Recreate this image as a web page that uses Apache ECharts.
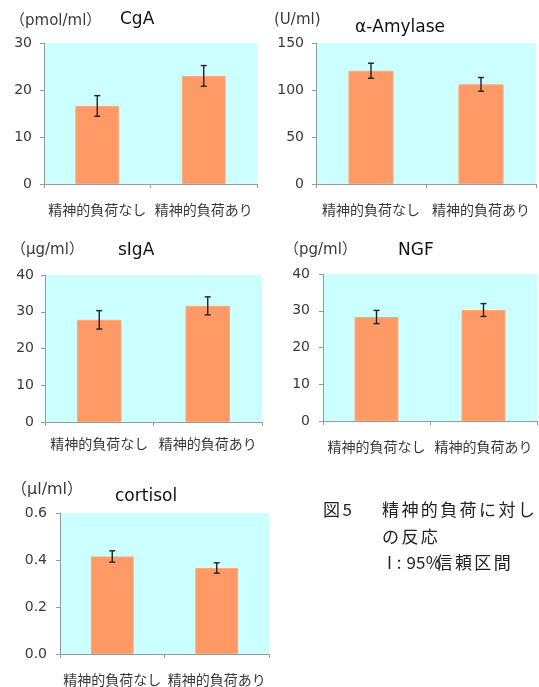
<!DOCTYPE html>
<html>
<head>
<meta charset="utf-8">
<script src="https://cdn.jsdelivr.net/npm/echarts@6/dist/echarts.min.js"></script>
<style>
  html, body { margin: 0; padding: 0; background: #fff; }
  #chart { width: 539px; height: 687px; }
</style>
</head>
<body>
<div id="chart"></div>
<script>
// Groups compared in every panel
const categories = ['精神的負荷なし', '精神的負荷あり'];

// Mean values and 95% confidence half-widths per marker
const cgaMean = [16.6, 23.0];
const cgaCI = [2.2, 2.2];
const amylaseMean = [120.5, 106.0];
const amylaseCI = [8.0, 7.3];
const sigaMean = [27.8, 31.6];
const sigaCI = [2.5, 2.45];
const ngfMean = [28.3, 30.2];
const ngfCI = [1.8, 1.75];
const cortisolMean = [0.415, 0.366];
const cortisolCI = [0.024, 0.022];

// Panel titles, units and y-axis ranges
const panelNames = ['CgA', 'α-Amylase', 'sIgA', 'NGF', 'cortisol'];
const panelUnits = ['（pmol/ml）', '(U/ml)', '（μg/ml）', '（pg/ml）', '（μl/ml）'];
const yMax = [30, 150, 40, 40, 0.6];
const yInterval = [10, 50, 10, 10, 0.2];
const yDecimals = [0, 0, 0, 0, 1];

const means = [cgaMean, amylaseMean, sigaMean, ngfMean, cortisolMean];
const cis = [cgaCI, amylaseCI, sigaCI, ngfCI, cortisolCI];

// Plot-area placement of the five panels
const grids = [
  { left: 44, top: 43, width: 213, height: 141 },
  { left: 316, top: 43, width: 220, height: 141 },
  { left: 45, top: 275, width: 217, height: 147 },
  { left: 323, top: 274, width: 214, height: 147 },
  { left: 60, top: 513, width: 209, height: 144 }
];
const xLabelMargin = [19, 19, 15, 19, 19];
const yLabelMargin = [12, 12, 11, 13, 13];

const latin = '"DejaVu Sans", "Noto Sans CJK JP", sans-serif';
const jp = '"Noto Sans CJK JP", sans-serif';
const axisGrey = '#999';
const textCol = '#3a3a3a';

const chart = echarts.init(document.getElementById('chart'), null, { renderer: 'canvas' });

const gridOpts = grids.map(g => Object.assign({
  show: true, backgroundColor: '#CCFFFF', borderWidth: 0, containLabel: false
}, g));

const xAxes = grids.map((g, i) => ({
  type: 'category', gridIndex: i, data: categories,
  axisLine: { show: true, lineStyle: { color: axisGrey, width: 1 } },
  axisTick: { show: true, length: 4, lineStyle: { color: axisGrey } },
  axisLabel: { color: textCol, fontFamily: jp, fontSize: 14, margin: xLabelMargin[i], interval: 0 }
}));

const yAxes = grids.map((g, i) => ({
  type: 'value', gridIndex: i, min: 0, max: yMax[i], interval: yInterval[i],
  axisLine: { show: true, lineStyle: { color: axisGrey, width: 1 } },
  axisTick: { show: true, length: 4, lineStyle: { color: axisGrey } },
  splitLine: { show: false },
  axisLabel: {
    color: textCol, fontFamily: latin, fontSize: 14, margin: yLabelMargin[i],
    formatter: v => v.toFixed(yDecimals[i])
  }
}));

function errorBarItem(params, api) {
  const x = api.value(0);
  const lo = api.coord([x, api.value(1)]);
  const hi = api.coord([x, api.value(2)]);
  const cap = 3;
  const style = { stroke: '#222', lineWidth: 1.4 };
  return {
    type: 'group',
    children: [
      { type: 'line', shape: { x1: lo[0], y1: lo[1], x2: hi[0], y2: hi[1] }, style },
      { type: 'line', shape: { x1: hi[0] - cap, y1: hi[1], x2: hi[0] + cap, y2: hi[1] }, style },
      { type: 'line', shape: { x1: lo[0] - cap, y1: lo[1], x2: lo[0] + cap, y2: lo[1] }, style }
    ]
  };
}

const series = [];
means.forEach((m, i) => {
  series.push({
    type: 'bar', xAxisIndex: i, yAxisIndex: i, data: m, barWidth: '41%',
    itemStyle: { color: '#FF9966', borderColor: '#FFA878', borderWidth: 1 },
    silent: true
  });
  series.push({
    type: 'custom', xAxisIndex: i, yAxisIndex: i,
    data: m.map((v, k) => [k, v - cis[i][k], v + cis[i][k]]),
    renderItem: errorBarItem, z: 5, silent: true
  });
});

// Unit and marker labels above each panel
const unitPos = [[10, 21, 15], [274, 20, 15], [11, 250, 15], [284, 250, 15], [11, 490, 16]];
const namePos = [[120, 20, 17], [355, 28, 17], [118, 251, 17], [398, 251, 17], [115, 497, 17]];
const graphics = [];
panelNames.forEach((n, i) => {
  graphics.push({
    type: 'text', x: unitPos[i][0], y: unitPos[i][1],
    style: { text: panelUnits[i], font: unitPos[i][2] + 'px ' + latin, fill: textCol, textVerticalAlign: 'middle' }
  });
  graphics.push({
    type: 'text', x: namePos[i][0], y: namePos[i][1],
    style: { text: n, font: namePos[i][2] + 'px ' + latin, fill: '#111', textVerticalAlign: 'middle' }
  });
});

// Figure caption, laid out on a fixed character pitch
const captionLines = [
  [323, 510, '図5'],
  [382, 510, '精神的負荷に対し'],
  [382, 537, 'の反応'],
  [387, 563, 'I:95%信頼区間']
];
const pitch = 19.4;
captionLines.forEach(c => {
  let x = c[0];
  for (const ch of c[2]) {
    const half = ch.charCodeAt(0) < 0x2000;
    graphics.push({
      type: 'text', x: x, y: c[1],
      style: { text: ch, font: '17px ' + jp, fill: '#222', textVerticalAlign: 'middle' }
    });
    x += half ? pitch / 2 : pitch;
  }
});

chart.setOption({
  animation: false,
  grid: gridOpts,
  xAxis: xAxes,
  yAxis: yAxes,
  series: series,
  graphic: graphics
});
</script>
</body>
</html>
